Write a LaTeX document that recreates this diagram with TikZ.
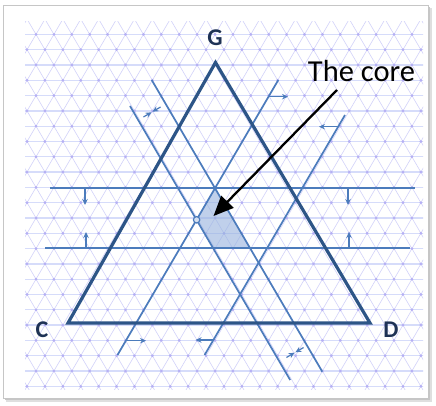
\documentclass[tikz,border=0pt]{standalone}
\usepackage{fontspec}
\setmainfont{Carlito}
\usetikzlibrary{arrows.meta}
\definecolor{gridc}{RGB}{210,210,250}
\definecolor{gridhc}{RGB}{214,220,250}
\definecolor{gdot}{RGB}{182,176,244}
\definecolor{tric}{RGB}{45,85,135}
\definecolor{linec}{RGB}{76,124,188}
\definecolor{shadec}{RGB}{150,178,222}
\definecolor{labc}{RGB}{30,50,85}
\tikzset{
 gridd/.style={gridc, line width=0.6pt},
 gridh/.style={gridhc, line width=1.3pt},
 tri/.style={tric, line width=3.2pt, line join=miter},
 cline/.style={linec, line width=1.7pt},
 carr/.style={linec, line width=1.2pt, -{Stealth[length=6pt,width=5.5pt]}},
 lbl/.style={font=\fontsize{24}{26}\selectfont\bfseries, text=labc, inner sep=0pt},
 coretext/.style={font=\fontsize{30.5}{32}\selectfont, text=black, inner sep=0pt, anchor=base},
}
\begin{document}
\begin{tikzpicture}[x=1pt,y=-1pt]
\useasboundingbox (0,0) rectangle (436,406);
\fill[white] (0,0) rectangle (436,406);
% frame with shadow
\fill[gray!25] (6,8) rectangle (432,402);
\fill[gray!45] (5,7) rectangle (430,400);
\fill[white] (3,5) rectangle (428,398);
\draw[gray!45, line width=0.8pt] (3,5) rectangle (428,398);
% grid
\begin{scope}
\clip (25,22) rectangle (423,389);
\foreach \k in {-3,...,22} \draw[gridh] (0,{65+15.3*\k}) -- (436,{65+15.3*\k});
\foreach \j in {-25,...,45} {
  \draw[gridd] ({36+17.9*\j-234},{65-400}) -- ({36+17.9*\j+234},{65+400});
  \draw[gridd] ({36+17.9*\j+234},{65-400}) -- ({36+17.9*\j-234},{65+400});
}
\foreach \k in {-3,...,22} \foreach \j in {-2,...,23}
  \fill[gdot] ({36+17.9*\j+8.95*mod(abs(\k),2)},{65+15.3*\k}) circle (1.5);
\end{scope}
% named points
\coordinate (G) at (215.5,62.5);
\coordinate (C) at (68,323);
\coordinate (D) at (370,323);
\coordinate (h1a) at (50,188.3);  \coordinate (h1b) at (415,188.3);
\coordinate (h2a) at (45,248.3);  \coordinate (h2b) at (410,248.3);
\coordinate (l3a) at (130,106);   \coordinate (l3b) at (290.2,380);
\coordinate (l4a) at (151.7,80);  \coordinate (l4b) at (322.3,371.7);
\coordinate (l5a) at (278.3,80);  \coordinate (l5b) at (117.5,355);
\coordinate (l6a) at (345,115);   \coordinate (l6b) at (204.6,355);
\coordinate (P) at (215,188.3);
\coordinate (Q) at (196.6,219.8);
\coordinate (R) at (213.2,248.3);
\coordinate (S) at (250.1,248.3);
% core region
\fill[shadec, opacity=0.6] (P) -- (Q) -- (R) -- (S) -- cycle;
% constraint lines
\draw[cline] (h1a) -- (h1b);
\draw[cline] (h2a) -- (h2b);
\draw[cline] (l3a) -- (l3b);
\draw[cline] (l4a) -- (l4b);
\draw[cline] (l5a) -- (l5b);
\draw[cline] (l6a) -- (l6b);
% direction arrows
\draw[carr] (85,188.3) -- (85,205);
\draw[carr] (348,188.3) -- (348,205);
\draw[carr] (86,248.3) -- (86,232);
\draw[carr] (349,248.3) -- (349,232);
\draw[carr] (268.6,96.7) -- (288,96.7);
\draw[carr] (125.9,340.7) -- (146,340.7);
\draw[carr] (338.2,126.7) -- (319,126.7);
\draw[carr] (213.4,340) -- (195.5,340);
\draw[carr] (143.4,117) -- (151.6,112.3);
\draw[carr] (160.6,107) -- (152.4,111.7);
\draw[carr] (286.4,357.5) -- (294.6,352.7);
\draw[carr] (303.6,347.5) -- (295.4,352.3);
% triangle
\draw[tri] (G) -- (D) -- (C) -- cycle;
% point
\draw[linec, fill=shadec!40, line width=1.2pt] (Q) circle (3.2);
% labels
\node[lbl] (lG) at (215,38) {G};
\node[lbl] (lC) at (42,330) {C};
\node[lbl] (lD) at (391,330) {D};
\node[coretext] (core) at (361.5,81.7) {The core};
\coordinate (coretail) at (337,90);
\coordinate (coretip) at (213.5,216);
\draw[black, line width=2.3pt, -{Triangle[length=20pt,width=17pt]}] (coretail) -- (coretip);
\end{tikzpicture}
\end{document}
